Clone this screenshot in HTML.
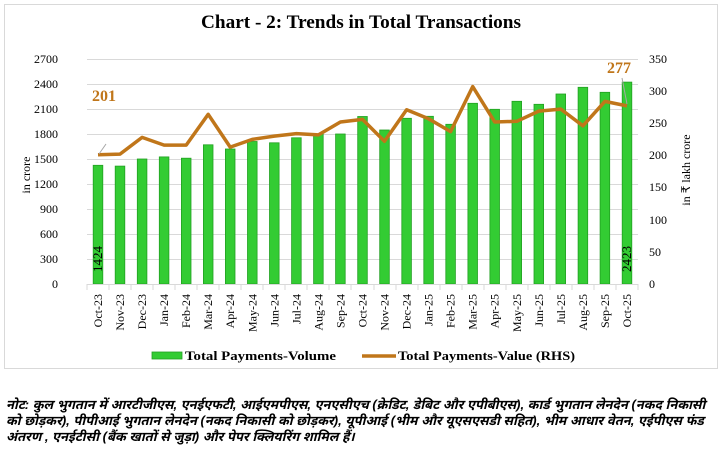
<!DOCTYPE html>
<html><head><meta charset="utf-8"><style>
body{margin:0;width:722px;height:455px;background:#fff;overflow:hidden}
svg{position:absolute;left:0;top:0}
.t{font-family:"Liberation Serif",serif;font-size:12px;fill:#000}
.note{position:absolute;left:6px;top:397px;width:714px;font-family:"Liberation Sans","Noto Sans Devanagari","Lohit Devanagari","FreeSans",sans-serif;font-size:13px;font-style:italic;font-weight:bold;line-height:16px;color:#000}
</style></head><body>
<svg width="722" height="455" xmlns="http://www.w3.org/2000/svg">
<rect x="4.5" y="4.5" width="713" height="364" fill="#fff" stroke="#d9d9d9"/>
<text x="361" y="28" text-anchor="middle" font-family="Liberation Serif,serif" font-weight="bold" font-size="18.5" textLength="320" lengthAdjust="spacingAndGlyphs">Chart - 2: Trends in Total Transactions</text>
<g stroke="#d9d9d9" stroke-width="1">
<line x1="87" x2="638" y1="59.5" y2="59.5"/><line x1="87" x2="638" y1="84.5" y2="84.5"/><line x1="87" x2="638" y1="109.5" y2="109.5"/><line x1="87" x2="638" y1="134.5" y2="134.5"/><line x1="87" x2="638" y1="159.5" y2="159.5"/><line x1="87" x2="638" y1="184.5" y2="184.5"/><line x1="87" x2="638" y1="209.5" y2="209.5"/><line x1="87" x2="638" y1="234.5" y2="234.5"/><line x1="87" x2="638" y1="259.5" y2="259.5"/>
</g>
<g class="t" text-anchor="end">
<text x="58" y="63">2700</text><text x="58" y="88">2400</text><text x="58" y="113">2100</text><text x="58" y="138">1800</text><text x="58" y="163">1500</text><text x="58" y="188">1200</text><text x="58" y="213">900</text><text x="58" y="238">600</text><text x="58" y="263">300</text><text x="58" y="288">0</text>
</g>
<g class="t">
<text x="649" y="63">350</text><text x="649" y="95">300</text><text x="649" y="127">250</text><text x="649" y="159">200</text><text x="649" y="191">150</text><text x="649" y="224">100</text><text x="649" y="256">50</text><text x="649" y="288">0</text>
</g>
<text class="t" transform="translate(30,175) rotate(-90)" text-anchor="middle">in crore</text>
<text class="t" transform="translate(690,170) rotate(-90)" text-anchor="middle">in ₹ lakh crore</text>
<g fill="#33cc33" stroke="#22a022" stroke-width="0.8">
<rect x="93.2" y="165.3" width="9.6" height="118.7"/>
<rect x="115.2" y="166.1" width="9.6" height="117.9"/>
<rect x="137.3" y="159" width="9.6" height="125"/>
<rect x="159.3" y="156.9" width="9.6" height="127.1"/>
<rect x="181.4" y="158.2" width="9.6" height="125.8"/>
<rect x="203.4" y="144.8" width="9.6" height="139.2"/>
<rect x="225.4" y="149" width="9.6" height="135"/>
<rect x="247.5" y="141.5" width="9.6" height="142.5"/>
<rect x="269.5" y="142.8" width="9.6" height="141.2"/>
<rect x="291.6" y="137.8" width="9.6" height="146.2"/>
<rect x="313.6" y="134" width="9.6" height="150"/>
<rect x="335.6" y="134" width="9.6" height="150"/>
<rect x="357.7" y="116.5" width="9.6" height="167.5"/>
<rect x="379.7" y="130" width="9.6" height="154"/>
<rect x="401.8" y="118.3" width="9.6" height="165.7"/>
<rect x="423.8" y="116.3" width="9.6" height="167.7"/>
<rect x="445.8" y="124.3" width="9.6" height="159.7"/>
<rect x="467.9" y="103.3" width="9.6" height="180.7"/>
<rect x="489.9" y="109.3" width="9.6" height="174.7"/>
<rect x="512" y="101.3" width="9.6" height="182.7"/>
<rect x="534" y="104.3" width="9.6" height="179.7"/>
<rect x="556" y="94" width="9.6" height="190"/>
<rect x="578.1" y="87.3" width="9.6" height="196.7"/>
<rect x="600.1" y="92.3" width="9.6" height="191.7"/>
<rect x="622.2" y="82.1" width="9.6" height="201.9"/>
</g>
<g stroke="#d9d9d9"><line x1="87" x2="638" y1="284.5" y2="284.5"/></g>
<g stroke="#d9d9d9" stroke-width="1">
<line x1="87" x2="87" y1="284" y2="290"/><line x1="109" x2="109" y1="284" y2="290"/><line x1="131" x2="131" y1="284" y2="290"/><line x1="153" x2="153" y1="284" y2="290"/><line x1="175" x2="175" y1="284" y2="290"/><line x1="197" x2="197" y1="284" y2="290"/><line x1="219" x2="219" y1="284" y2="290"/><line x1="241" x2="241" y1="284" y2="290"/><line x1="263" x2="263" y1="284" y2="290"/><line x1="285" x2="285" y1="284" y2="290"/><line x1="307" x2="307" y1="284" y2="290"/><line x1="329" x2="329" y1="284" y2="290"/><line x1="351" x2="351" y1="284" y2="290"/><line x1="374" x2="374" y1="284" y2="290"/><line x1="396" x2="396" y1="284" y2="290"/><line x1="418" x2="418" y1="284" y2="290"/><line x1="440" x2="440" y1="284" y2="290"/><line x1="462" x2="462" y1="284" y2="290"/><line x1="484" x2="484" y1="284" y2="290"/><line x1="506" x2="506" y1="284" y2="290"/><line x1="528" x2="528" y1="284" y2="290"/><line x1="550" x2="550" y1="284" y2="290"/><line x1="572" x2="572" y1="284" y2="290"/><line x1="594" x2="594" y1="284" y2="290"/><line x1="616" x2="616" y1="284" y2="290"/><line x1="638" x2="638" y1="284" y2="290"/>
</g>
<polyline fill="none" stroke="#c0761a" stroke-width="3.5" stroke-linejoin="round" points="98,154.8 120,154.1 142.1,137.4 164.1,145.1 186.2,145.1 208.2,114.3 230.2,147.1 252.3,139.4 274.3,136.1 296.4,133.6 318.4,134.9 340.4,122 362.5,119.4 384.5,141.3 406.6,109.8 428.6,118.8 450.6,131.6 472.7,86.6 494.7,122 516.8,121.3 538.8,111.1 560.8,109.1 582.9,125.8 604.9,101.4 627,105.9"/>
<line x1="99" y1="154" x2="106" y2="144" stroke="#a6a6a6"/>
<line x1="627" y1="104" x2="622" y2="78" stroke="#a6a6a6"/>
<text x="92" y="101" font-family="Liberation Serif,serif" font-weight="bold" font-size="16" fill="#c0761a">201</text>
<text x="607" y="73" font-family="Liberation Serif,serif" font-weight="bold" font-size="16" fill="#c0761a">277</text>
<text transform="translate(102,259) rotate(-90)" text-anchor="middle" font-family="Liberation Serif,serif" font-size="13" fill="#000">1424</text>
<text transform="translate(631,259) rotate(-90)" text-anchor="middle" font-family="Liberation Serif,serif" font-size="13" fill="#000">2423</text>
<g class="t" font-size="12" text-anchor="end">
<text transform="translate(102,294) rotate(-90)">Oct-23</text>
<text transform="translate(124,294) rotate(-90)">Nov-23</text>
<text transform="translate(146.1,294) rotate(-90)">Dec-23</text>
<text transform="translate(168.1,294) rotate(-90)">Jan-24</text>
<text transform="translate(190.2,294) rotate(-90)">Feb-24</text>
<text transform="translate(212.2,294) rotate(-90)">Mar-24</text>
<text transform="translate(234.2,294) rotate(-90)">Apr-24</text>
<text transform="translate(256.3,294) rotate(-90)">May-24</text>
<text transform="translate(278.3,294) rotate(-90)">Jun-24</text>
<text transform="translate(300.4,294) rotate(-90)">Jul-24</text>
<text transform="translate(322.4,294) rotate(-90)">Aug-24</text>
<text transform="translate(344.4,294) rotate(-90)">Sep-24</text>
<text transform="translate(366.5,294) rotate(-90)">Oct-24</text>
<text transform="translate(388.5,294) rotate(-90)">Nov-24</text>
<text transform="translate(410.6,294) rotate(-90)">Dec-24</text>
<text transform="translate(432.6,294) rotate(-90)">Jan-25</text>
<text transform="translate(454.6,294) rotate(-90)">Feb-25</text>
<text transform="translate(476.7,294) rotate(-90)">Mar-25</text>
<text transform="translate(498.7,294) rotate(-90)">Apr-25</text>
<text transform="translate(520.8,294) rotate(-90)">May-25</text>
<text transform="translate(542.8,294) rotate(-90)">Jun-25</text>
<text transform="translate(564.8,294) rotate(-90)">Jul-25</text>
<text transform="translate(586.9,294) rotate(-90)">Aug-25</text>
<text transform="translate(608.9,294) rotate(-90)">Sep-25</text>
<text transform="translate(631,294) rotate(-90)">Oct-25</text>
</g>
<rect x="152" y="352" width="30" height="7" fill="#33cc33" stroke="#22a022" stroke-width="0.8"/>
<text x="185" y="360" font-family="Liberation Serif,serif" font-weight="bold" font-size="13" textLength="151" lengthAdjust="spacingAndGlyphs">Total Payments-Volume</text>
<line x1="362" y1="356" x2="396" y2="356" stroke="#c0761a" stroke-width="3.5"/>
<text x="398" y="360" font-family="Liberation Serif,serif" font-weight="bold" font-size="13" textLength="177" lengthAdjust="spacingAndGlyphs">Total Payments-Value (RHS)</text>
</svg>
<div class="note">नोट: कुल भुगतान में आरटीजीएस, एनईएफटी, आईएमपीएस, एनएसीएच (क्रेडिट, डेबिट और एपीबीएस), कार्ड भुगतान लेनदेन (नकद निकासी को छोड़कर), पीपीआई भुगतान लेनदेन (नकद निकासी को छोड़कर), यूपीआई (भीम और यूएसएसडी सहित), भीम आधार वेतन, एईपीएस फंड अंतरण , एनईटीसी (बैंक खातों से जुड़ा) और पेपर क्लियरिंग शामिल हैं।</div>
</body></html>
